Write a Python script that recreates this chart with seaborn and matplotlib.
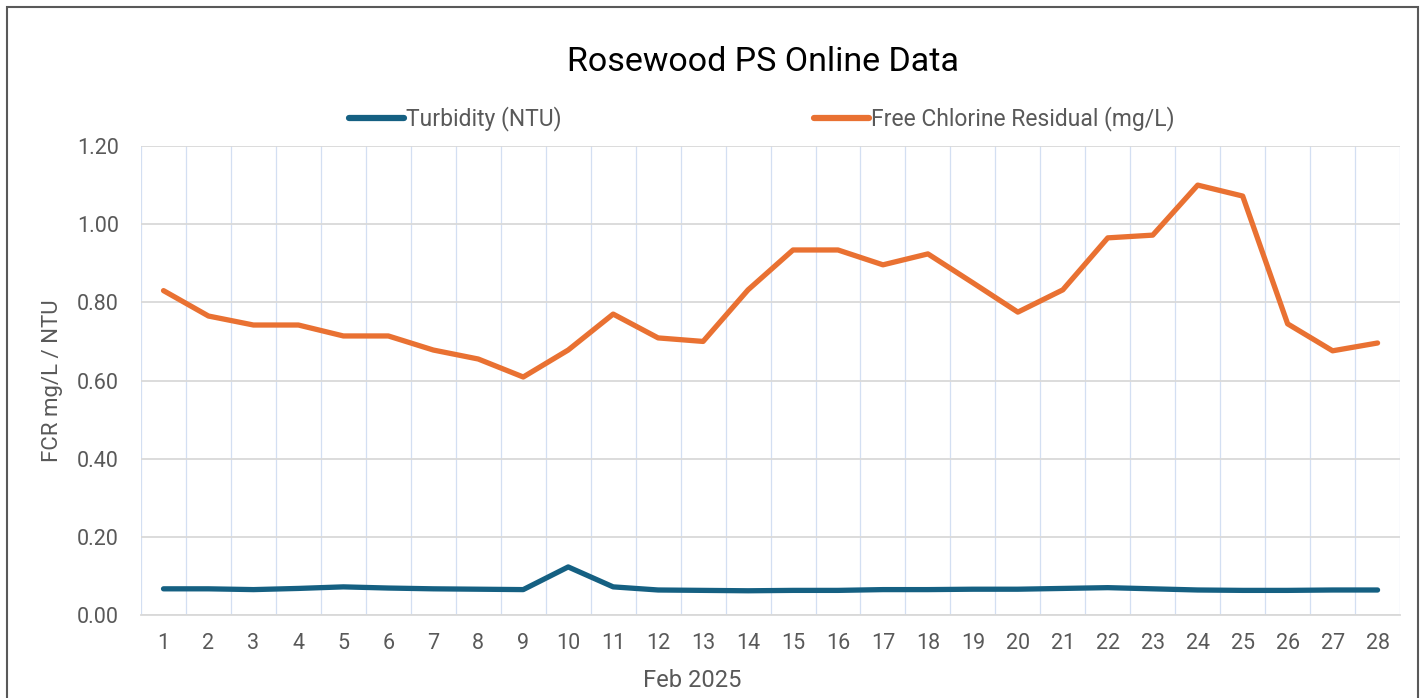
import seaborn as sns
import pandas as pd
import numpy as np
import matplotlib.pyplot as plt
from matplotlib.patches import Rectangle

days = list(range(1, 29))
turbidity = [0.067, 0.067, 0.065, 0.068, 0.072, 0.069, 0.067, 0.066, 0.065, 0.123,
             0.072, 0.064, 0.063, 0.062, 0.063, 0.063, 0.065, 0.065, 0.066, 0.066,
             0.068, 0.070, 0.067, 0.064, 0.063, 0.063, 0.064, 0.064]
fcr = [0.83, 0.765, 0.742, 0.742, 0.714, 0.714, 0.678, 0.655, 0.609, 0.678,
       0.77, 0.709, 0.70, 0.832, 0.934, 0.934, 0.896, 0.924, 0.85, 0.775,
       0.832, 0.965, 0.972, 1.10, 1.072, 0.745, 0.676, 0.696]
series_names = ["Turbidity (NTU)", "Free Chlorine Residual (mg/L)"]
colors = ["#156082", "#E97132"]

sns.set_style("white")
plt.rcParams['font.family'] = ['Roboto', 'DejaVu Sans']

df = pd.DataFrame({
    "day": days * 2,
    "value": turbidity + fcr,
    "series": [series_names[0]] * len(days) + [series_names[1]] * len(days),
})

fig = plt.figure(figsize=(14.26, 6.98), dpi=100)
ax = fig.add_axes([0.0989, 0.1189, 0.8829, 0.6719])

sns.lineplot(data=df, x="day", y="value", hue="series", palette=colors,
             linewidth=3.8, ax=ax, legend=False, solid_capstyle="round",
             solid_joinstyle="round")

ax.set_xlim(0.5, 28.5)
ax.set_ylim(0, 1.2)
ax.set_yticks(np.arange(0, 1.21, 0.2))
ax.set_yticklabels([f"{v:.2f}" for v in np.arange(0, 1.21, 0.2)])
ax.set_xticks(days)
ax.set_xticks(np.arange(0.5, 29, 1), minor=True)
ax.grid(axis="y", which="major", color="#d9d9d9", linewidth=1.3)
ax.grid(axis="x", which="minor", color="#d3dff2", linewidth=0.9)
ax.grid(axis="x", which="major", visible=False)
for s in ["top", "right", "left"]:
    ax.spines[s].set_visible(False)
ax.spines["bottom"].set_color("#d9d9d9")
ax.spines["bottom"].set_linewidth(1.3)
ax.tick_params(axis="both", which="both", length=0, labelsize=15.5, colors="#595959")
ax.tick_params(axis="x", pad=13)
ax.tick_params(axis="y", pad=16)
ax.set_axisbelow(True)

ax.set_xlabel("Feb 2025", fontsize=17, color="#595959")
ax.xaxis.set_label_coords(0.438, -0.115)
ax.set_ylabel("FCR mg/L / NTU", fontsize=16, color="#595959", labelpad=10)

fig.text(0.535, 0.911, "Rosewood PS Online Data", ha="center", va="center",
         fontsize=24.5, color="#000000")

handles = [plt.Line2D([], [], color=c, linewidth=4.5, solid_capstyle="round") for c in colors]
fig.legend(handles, series_names, loc="center", bbox_to_anchor=(0.534, 0.830), ncol=2,
           frameon=False, fontsize=16.5, labelcolor="#595959", handlelength=2.4,
           handletextpad=0.1, columnspacing=11.0)

fig.patches.append(Rectangle((7 / 1426, -0.05), 1411 / 1426, 1 - 7 / 698 + 0.05,
                             transform=fig.transFigure, fill=False,
                             edgecolor="#595959", linewidth=1.5))

fig.savefig("out.png", dpi=100)
